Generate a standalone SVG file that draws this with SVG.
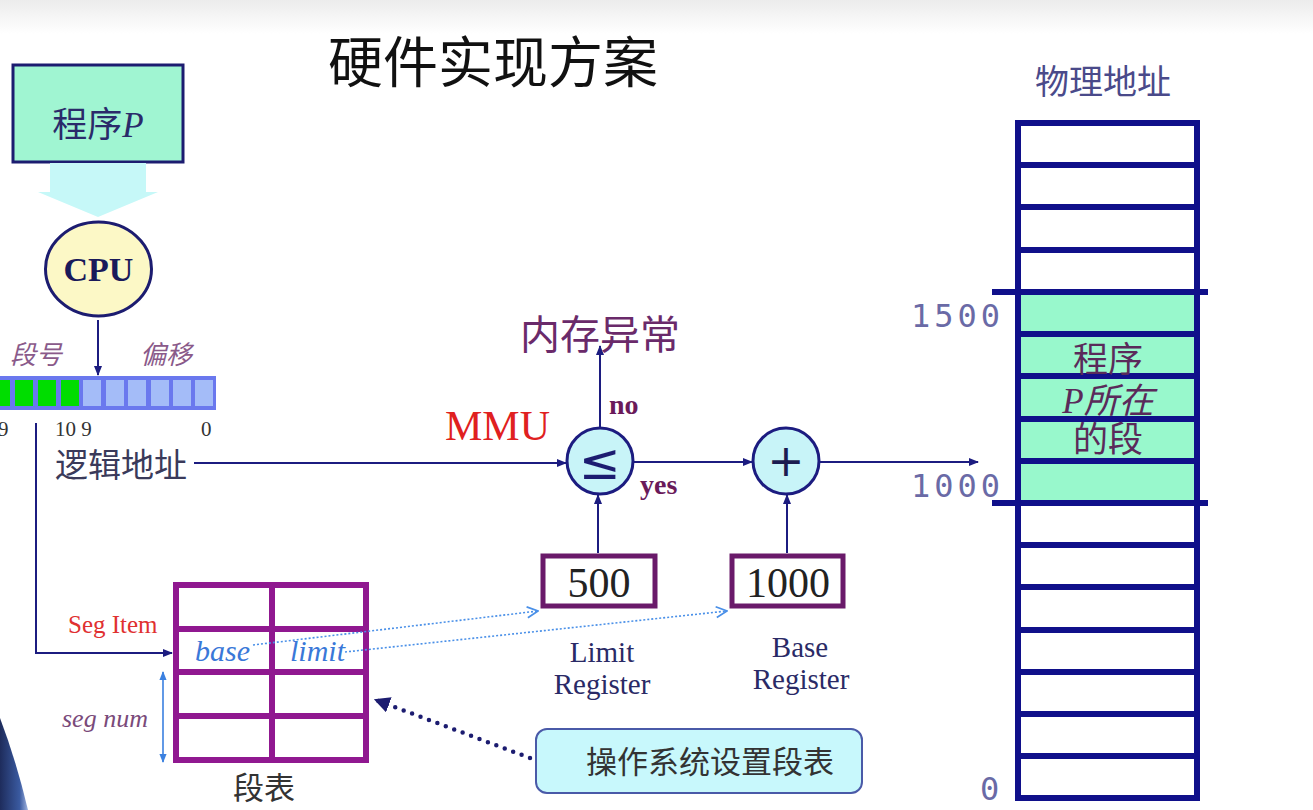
<svg xmlns="http://www.w3.org/2000/svg" width="1313" height="810" viewBox="0 0 1313 810">
<style>
.cjk{font-family:"Noto Sans CJK SC","Liberation Sans",sans-serif}
.ser{font-family:"Liberation Serif","Noto Sans CJK SC",serif}
.nav{stroke:#1c1c80;stroke-width:2;fill:none}
.reg{fill:#fff;stroke:#6a1a6a;stroke-width:5}
.lbl{font-family:"Liberation Serif",serif;font-size:29px;fill:#2a2a66;text-anchor:middle}
.mono{font-family:"DejaVu Sans Mono",monospace;font-size:32px;fill:#6a6aa6;letter-spacing:4px}
.cell{fill:#a4bcf8}
.gcell{fill:#00dd00}
.dot{stroke:#4a90e8;stroke-width:1.6;stroke-dasharray:2 2;fill:none}
</style>
<defs>
<linearGradient id="bg" x1="0" y1="0" x2="0" y2="1">
<stop offset="0" stop-color="#ececec"/><stop offset="1" stop-color="#ffffff"/>
</linearGradient>
<linearGradient id="pers" x1="0" y1="0" x2="1" y2="0">
<stop offset="0" stop-color="#1e2c5c"/><stop offset="0.7" stop-color="#3a5aa0"/><stop offset="1" stop-color="#a0b4e0"/>
</linearGradient>
<marker id="ah" viewBox="0 0 10 10" refX="9" refY="5" markerWidth="10" markerHeight="10" markerUnits="userSpaceOnUse" orient="auto">
<path d="M0,1 L10,5 L0,9 Z" fill="#1c1c80"/>
</marker>
<marker id="ahb" viewBox="0 0 10 10" refX="9" refY="5" markerWidth="9" markerHeight="9" markerUnits="userSpaceOnUse" orient="auto-start-reverse">
<path d="M0,1 L10,5 L0,9 Z" fill="#3a80e0"/>
</marker>
<marker id="open" viewBox="0 0 12 12" refX="11" refY="6" markerWidth="13" markerHeight="13" markerUnits="userSpaceOnUse" orient="auto">
<path d="M1,1 L11,6 L1,11" fill="none" stroke="#4a90e8" stroke-width="1.6"/>
</marker>
<marker id="tri" viewBox="0 0 14 14" refX="12" refY="7" markerWidth="16" markerHeight="16" markerUnits="userSpaceOnUse" orient="auto">
<path d="M0,0 L14,7 L0,14 Z" fill="#1c1c70"/>
</marker>
</defs>
<rect width="1313" height="810" fill="#fff"/>
<rect width="1313" height="34" fill="url(#bg)"/>
<path d="M0,718 Q16,760 28,810 L0,810 Z" fill="url(#pers)"/>

<text x="328" y="82" class="cjk" font-size="55" fill="#111">硬件实现方案</text>

<g id="program">
<rect x="13" y="65" width="170" height="97" fill="#a0f5d2" stroke="#1c1c70" stroke-width="3"/>
<text x="98" y="137" class="ser" font-size="35" fill="#2a2a6a" text-anchor="middle"><tspan class="cjk">程序</tspan><tspan font-style="italic">P</tspan></text>
</g>
<g id="fat-arrow">
<path d="M50,163 L146,163 L146,192 L158,192 L98,217 L38,192 L50,192 Z" fill="#c6f8f8"/>
</g>
<g id="cpu">
<ellipse cx="98.5" cy="269" rx="53" ry="47" fill="#fcf8c6" stroke="#1c1c70" stroke-width="3"/>
<text x="98.5" y="281" class="ser" font-size="34" font-weight="bold" fill="#1a1a5a" text-anchor="middle">CPU</text>
</g>

<g id="logical-address">
<text x="10" y="364" class="cjk" font-size="26" font-style="italic" fill="#8a5a8a">段号</text>
<text x="140" y="364" class="cjk" font-size="26" font-style="italic" fill="#8a5a8a">偏移</text>
<rect x="-4" y="376" width="220" height="34" fill="#6a78ee"/>
<rect x="-4" y="380" width="14" height="26" class="gcell"/>
<rect x="15" y="380" width="18" height="26" class="gcell"/>
<rect x="38" y="380" width="18" height="26" class="gcell"/>
<rect x="61" y="380" width="18" height="26" class="gcell"/>
<rect x="83" y="380" width="18" height="26" class="cell"/>
<rect x="106" y="380" width="18" height="26" class="cell"/>
<rect x="128" y="380" width="18" height="26" class="cell"/>
<rect x="151" y="380" width="18" height="26" class="cell"/>
<rect x="173" y="380" width="18" height="26" class="cell"/>
<rect x="195" y="380" width="18" height="26" class="cell"/>
<text x="-2" y="436" class="ser" font-size="21" fill="#333">9</text>
<text x="55" y="436" class="ser" font-size="21" fill="#333">10 9</text>
<text x="201" y="436" class="ser" font-size="21" fill="#333">0</text>
<text x="55" y="477" class="cjk" font-size="33" fill="#3a3a5a">逻辑地址</text>
</g>

<g id="mmu-label"><text x="445" y="440" class="ser" font-size="42" fill="#e02020">MMU</text></g>

<g id="compare">
<circle cx="600" cy="461" r="33" fill="#c8f4f8" stroke="#1c1c80" stroke-width="3"/>
<text x="600" y="479" font-family="DejaVu Sans,sans-serif" font-size="50" fill="#1c1c70" text-anchor="middle">≤</text>
</g>
<g id="adder">
<circle cx="786" cy="461" r="33" fill="#c8f4f8" stroke="#1c1c80" stroke-width="3"/>
<text x="786" y="476" font-family="DejaVu Sans,sans-serif" font-size="44" fill="#1c1c50" text-anchor="middle">+</text>
</g>
<g id="exception"><text x="520" y="349" class="cjk" font-size="40" fill="#6a2a6a">内存异常</text></g>
<text x="609" y="414" class="ser" font-size="28" font-weight="bold" fill="#6a1a5a">no</text>
<text x="640" y="494" class="ser" font-size="28" font-weight="bold" fill="#6a1a5a">yes</text>

<g id="limit-register">
<rect x="543" y="556" width="112" height="50" class="reg"/>
<text x="599" y="597" class="ser" font-size="42" fill="#222" text-anchor="middle">500</text>
<text x="602" y="662" class="lbl">Limit</text>
<text x="602" y="694" class="lbl">Register</text>
</g>
<g id="base-register">
<rect x="732" y="556" width="111" height="50" class="reg"/>
<text x="800" y="657" class="lbl">Base</text>
<text x="788" y="597" class="ser" font-size="42" fill="#222" text-anchor="middle">1000</text>
<text x="801" y="689" class="lbl">Register</text>
</g>

<g id="segment-table">
<rect x="176" y="585" width="190" height="175" fill="#fff" stroke="#901890" stroke-width="6"/>
<path d="M272,585 V760 M176,629 H366 M176,672 H366 M176,716 H366" stroke="#901890" stroke-width="6"/>
<text x="195" y="661" class="ser" font-size="30" font-style="italic" fill="#3a78d8">base</text>
<text x="290" y="661" class="ser" font-size="30" font-style="italic" fill="#3a78d8">limit</text>
<text x="233" y="799" class="cjk" font-size="31" fill="#333">段表</text>
<text x="68" y="633" class="ser" font-size="25" fill="#e03030">Seg Item</text>
<text x="62" y="727" class="ser" font-size="26" font-style="italic" fill="#7a4a7a">seg num</text>
</g>

<g id="os-box">
<rect x="536" y="729" width="326" height="64" rx="11" fill="#c8f8fc" stroke="#4a5aa8" stroke-width="2"/>
<text x="710" y="773" class="cjk" font-size="31" fill="#333" text-anchor="middle">操作系统设置段表</text>
</g>

<g id="memory">
<text x="1035" y="94" class="cjk" font-size="34" fill="#4a4a8a">物理地址</text>
<rect x="1018" y="292" width="179" height="211" fill="#98f8cc"/>
<rect x="1018" y="123" width="179" height="675" fill="none" stroke="#10108a" stroke-width="6"/>
<path d="M1018,165 H1197 M1018,207 H1197 M1018,250 H1197 M992,292 H1208 M1018,334 H1197 M1018,376 H1197 M1018,419 H1197 M1018,461 H1197 M992,503 H1208 M1018,545 H1197 M1018,587 H1197 M1018,630 H1197 M1018,672 H1197 M1018,714 H1197 M1018,756 H1197" stroke="#10108a" stroke-width="6"/>
<path d="M992,292 H1208 M992,503 H1208" stroke="#10108a" stroke-width="2"/>
<text x="911" y="327" class="mono">1500</text>
<text x="911" y="497" class="mono">1000</text>
<text x="980" y="800" class="mono">0</text>
<g class="cjk" font-size="35" fill="#5a2a5a" text-anchor="middle">
<text x="1108" y="372">程序</text>
<text x="1108" y="413"><tspan class="ser" font-style="italic">P</tspan><tspan font-style="italic">所在</tspan></text>
<text x="1108" y="452">的段</text>
</g>
</g>

<g id="connectors">
<line x1="98" y1="320" x2="98" y2="375" class="nav" marker-end="url(#ah)"/>
<polyline points="36,423 36,653 172,653" class="nav" marker-end="url(#ah)"/>
<line x1="194" y1="463" x2="566" y2="463" class="nav" marker-end="url(#ah)"/>
<line x1="600" y1="428" x2="600" y2="346" class="nav" marker-end="url(#ah)"/>
<line x1="633" y1="462" x2="752" y2="462" class="nav" marker-end="url(#ah)"/>
<line x1="819" y1="462" x2="978" y2="462" class="nav" marker-end="url(#ah)"/>
<line x1="598" y1="553" x2="598" y2="495" class="nav" marker-end="url(#ah)"/>
<line x1="787" y1="553" x2="787" y2="495" class="nav" marker-end="url(#ah)"/>
<line x1="253" y1="645" x2="538" y2="611" class="dot" marker-end="url(#open)"/>
<line x1="345" y1="652" x2="727" y2="611" class="dot" marker-end="url(#open)"/>
<line x1="163" y1="672" x2="163" y2="762" stroke="#3a80e0" stroke-width="1.6" marker-start="url(#ahb)" marker-end="url(#ahb)"/>
<line x1="530" y1="758" x2="376" y2="700" stroke="#1c1c70" stroke-width="4.5" stroke-linecap="round" stroke-dasharray="0 9" marker-end="url(#tri)"/>
</g>
</svg>
